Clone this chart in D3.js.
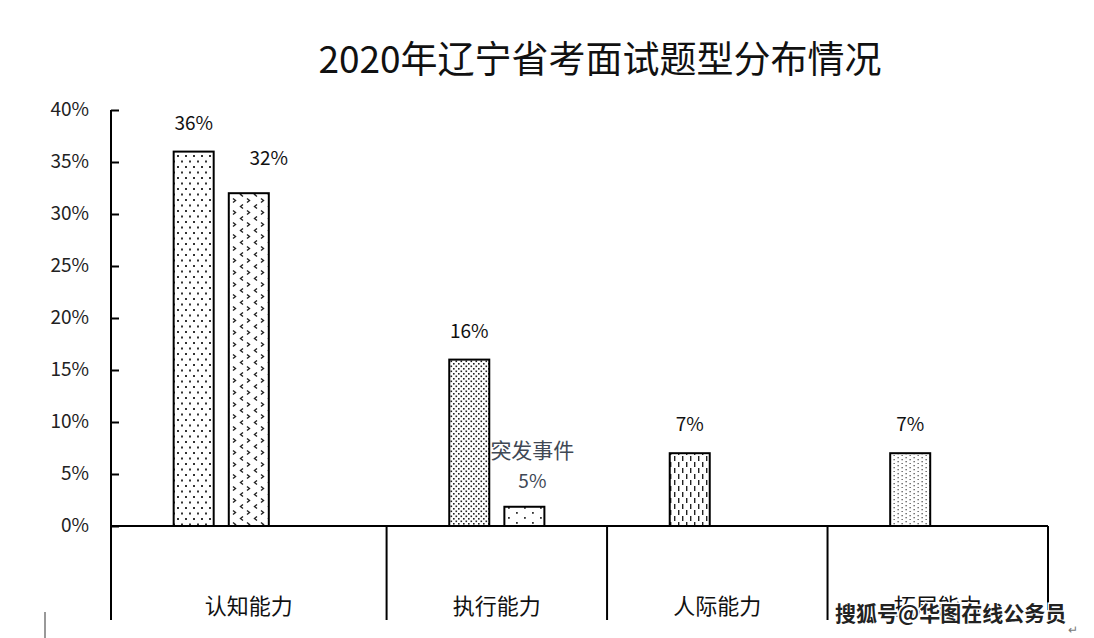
<!DOCTYPE html>
<html>
<head>
<meta charset="utf-8">
<script src="https://cdn.jsdelivr.net/npm/d3@7"></script>
<style>
  html, body { margin: 0; padding: 0; background: #fff; }
  svg { display: block; }
</style>
</head>
<body>
<svg id="chart" width="1094" height="638"></svg>
<script>
// ---- Data (Excel-style rows with blank rows inside each category) ----
const title = "2020年辽宁省考面试题型分布情况";
const categories = ["认知能力", "执行能力", "人际能力", "拓展能力"];
const cognitiveRows = [null, 36, 32, null, null];
const executionRows = [null, 16, 1.85, null];
const interpersonalRows = [null, 7, null, null];
const expansionRows = [null, 7, null, null];
const barLabels = ["36%", "32%", "16%", "5%", "7%", "7%"];
const barLabelPrefix = [null, null, null, "突发事件", null, null];
const yTicks = [0, 5, 10, 15, 20, 25, 30, 35, 40];
const watermark = "搜狐号@华图在线公务员";

// ---- Build flat rows ----
const groups = [cognitiveRows, executionRows, interpersonalRows, expansionRows];
const rows = [];
groups.forEach((g, ci) => g.forEach(v => rows.push({ cat: ci, value: v, slot: rows.length })));
const bars = rows.filter(r => r.value !== null);
bars.forEach((b, i) => { b.label = barLabels[i]; b.prefix = barLabelPrefix[i]; b.idx = i; });

const svg = d3.select("#chart");
const font = "'Noto Sans CJK SC', 'Noto Sans', sans-serif";

const plotLeft = 111, plotRight = 1048, plotTop = 110, plotBottom = 526, catBottom = 620;
const pad = 0.274;
const x = d3.scaleBand().domain(rows.map(r => r.slot)).range([plotLeft, plotRight])
  .paddingInner(pad).paddingOuter(pad / 2);
const y = d3.scaleLinear().domain([0, 40]).range([plotBottom, plotTop]);

// ---- Patterns ----
const defs = svg.append("defs");
function pat(id, w, h) {
  const p = defs.append("pattern").attr("id", id).attr("patternUnits", "userSpaceOnUse")
    .attr("width", w).attr("height", h);
  p.append("rect").attr("width", w).attr("height", h).attr("fill", "#fff");
  return p;
}
// 0: small grid of dots
let p = pat("p0", 8, 11);
p.append("rect").attr("x", 1).attr("y", 1).attr("width", 2).attr("height", 2).attr("fill", "#333");
p.append("rect").attr("x", 5).attr("y", 6.5).attr("width", 2).attr("height", 2).attr("fill", "#333");
// 1: divot (< >)
p = pat("p1", 14, 12);
p.append("path").attr("d", "M5,0.5 L2.5,2.5 L5,4.5").attr("fill", "none").attr("stroke", "#222").attr("stroke-width", 1.4);
p.append("path").attr("d", "M9,6.5 L11.5,8.5 L9,10.5").attr("fill", "none").attr("stroke", "#222").attr("stroke-width", 1.4);
// 2: dense dots
p = pat("p2", 5, 5);
p.append("rect").attr("x", 0.5).attr("y", 0.5).attr("width", 1.6).attr("height", 1.6).attr("fill", "#222");
p.append("rect").attr("x", 3).attr("y", 3).attr("width", 1.6).attr("height", 1.6).attr("fill", "#222");
// 3: sparse dots
p = pat("p3", 16, 10);
p.append("rect").attr("x", 4).attr("y", 2).attr("width", 1.8).attr("height", 1.8).attr("fill", "#333");
p.append("rect").attr("x", 12).attr("y", 7).attr("width", 1.8).attr("height", 1.8).attr("fill", "#333");
// 4: dashed vertical
p = pat("p4", 8, 12);
p.append("rect").attr("x", 2).attr("y", 0).attr("width", 1.4).attr("height", 5).attr("fill", "#222");
p.append("rect").attr("x", 6).attr("y", 6).attr("width", 1.4).attr("height", 5).attr("fill", "#222");
// 5: fine column dots
p = pat("p5", 8, 8);
p.append("rect").attr("x", 1.5).attr("y", 1).attr("width", 1.3).attr("height", 1.3).attr("fill", "#555");
p.append("rect").attr("x", 5.5).attr("y", 3).attr("width", 1.3).attr("height", 1.3).attr("fill", "#555");
p.append("rect").attr("x", 1.5).attr("y", 5).attr("width", 1.3).attr("height", 1.3).attr("fill", "#555");
p.append("rect").attr("x", 5.5).attr("y", 7).attr("width", 1.3).attr("height", 1.3).attr("fill", "#555");

// ---- Title ----
svg.append("text").attr("x", 600).attr("y", 73).attr("text-anchor", "middle")
  .attr("font-family", font).attr("font-size", 37).attr("fill", "#111").text(title);

// ---- Y axis ----
const yAxis = d3.axisRight(y).tickValues(yTicks).tickSize(8).tickFormat(d => d + "%");
const ya = svg.append("g").attr("transform", `translate(${plotLeft},0)`).call(yAxis);
ya.select(".domain").attr("stroke", "#000").attr("stroke-width", 2).attr("d", `M0,${plotTop}V${plotBottom}`);
ya.selectAll(".tick line").attr("stroke", "#000").attr("stroke-width", 2);
ya.selectAll(".tick text").attr("x", -22).attr("text-anchor", "end").attr("dy", "0.3em")
  .attr("font-family", font).attr("font-size", 19).attr("fill", "#222");

// ---- Bars ----
svg.selectAll("rect.bar").data(bars).enter().append("rect").attr("class", "bar")
  .attr("x", d => x(d.slot)).attr("width", x.bandwidth())
  .attr("y", d => y(d.value)).attr("height", d => y(0) - y(d.value))
  .attr("fill", d => `url(#p${d.idx})`).attr("stroke", "#000").attr("stroke-width", 2);

// ---- Bar labels ----
const nudges = { 1: [20, 0], 3: [8, 0] };
svg.selectAll("text.lbl").data(bars).enter().append("text").attr("class", "lbl")
  .attr("x", d => x(d.slot) + x.bandwidth() / 2 + (nudges[d.idx] ? nudges[d.idx][0] : 0))
  .attr("y", d => d.prefix ? y(d.value) - 19 : (d.idx === 1 ? y(d.value) - 28 : y(d.value) - 22))
  .attr("text-anchor", "middle").attr("font-family", font).attr("font-size", 19)
  .attr("fill", d => d.prefix ? "#404855" : "#111").text(d => d.label);
svg.selectAll("text.pre").data(bars.filter(b => b.prefix)).enter().append("text").attr("class", "pre")
  .attr("x", d => x(d.slot) + x.bandwidth() / 2 + nudges[d.idx][0])
  .attr("y", d => y(d.value) - 49)
  .attr("text-anchor", "middle").attr("font-family", font).attr("font-size", 21)
  .attr("fill", "#404855").text(d => d.prefix);

// ---- Category axis ----
svg.append("line").attr("x1", plotLeft).attr("x2", plotRight).attr("y1", plotBottom).attr("y2", plotBottom)
  .attr("stroke", "#000").attr("stroke-width", 2);
const catInfo = [];
let start = 0;
groups.forEach((g, ci) => { catInfo.push({ name: categories[ci], start, end: start + g.length }); start += g.length; });
const step = x.step();
const edgeX = s => plotLeft + step * s;
const dividers = [0].concat(catInfo.map(c => c.end));
svg.selectAll("line.div").data(dividers).enter().append("line").attr("class", "div")
  .attr("x1", d => edgeX(d)).attr("x2", d => edgeX(d)).attr("y1", plotBottom).attr("y2", catBottom)
  .attr("stroke", "#000").attr("stroke-width", 2);
svg.selectAll("text.cat").data(catInfo).enter().append("text").attr("class", "cat")
  .attr("x", d => (edgeX(d.start) + edgeX(d.end)) / 2).attr("y", 614)
  .attr("text-anchor", "middle").attr("font-family", font).attr("font-size", 22).attr("fill", "#111")
  .text(d => d.name);

// ---- Watermark & artifacts ----
svg.append("text").attr("x", 835).attr("y", 621).attr("font-family", font).attr("font-size", 21)
  .attr("font-weight", "bold").attr("fill", "#222").attr("stroke", "#fff").attr("stroke-width", 3)
  .attr("paint-order", "stroke").text(watermark);
svg.append("text").attr("x", 1068).attr("y", 634).attr("font-family", font).attr("font-size", 12)
  .attr("fill", "#777").text("↵");
svg.append("line").attr("x1", 45).attr("x2", 45).attr("y1", 612).attr("y2", 638)
  .attr("stroke", "#777").attr("stroke-width", 1.5);
</script>
</body>
</html>
